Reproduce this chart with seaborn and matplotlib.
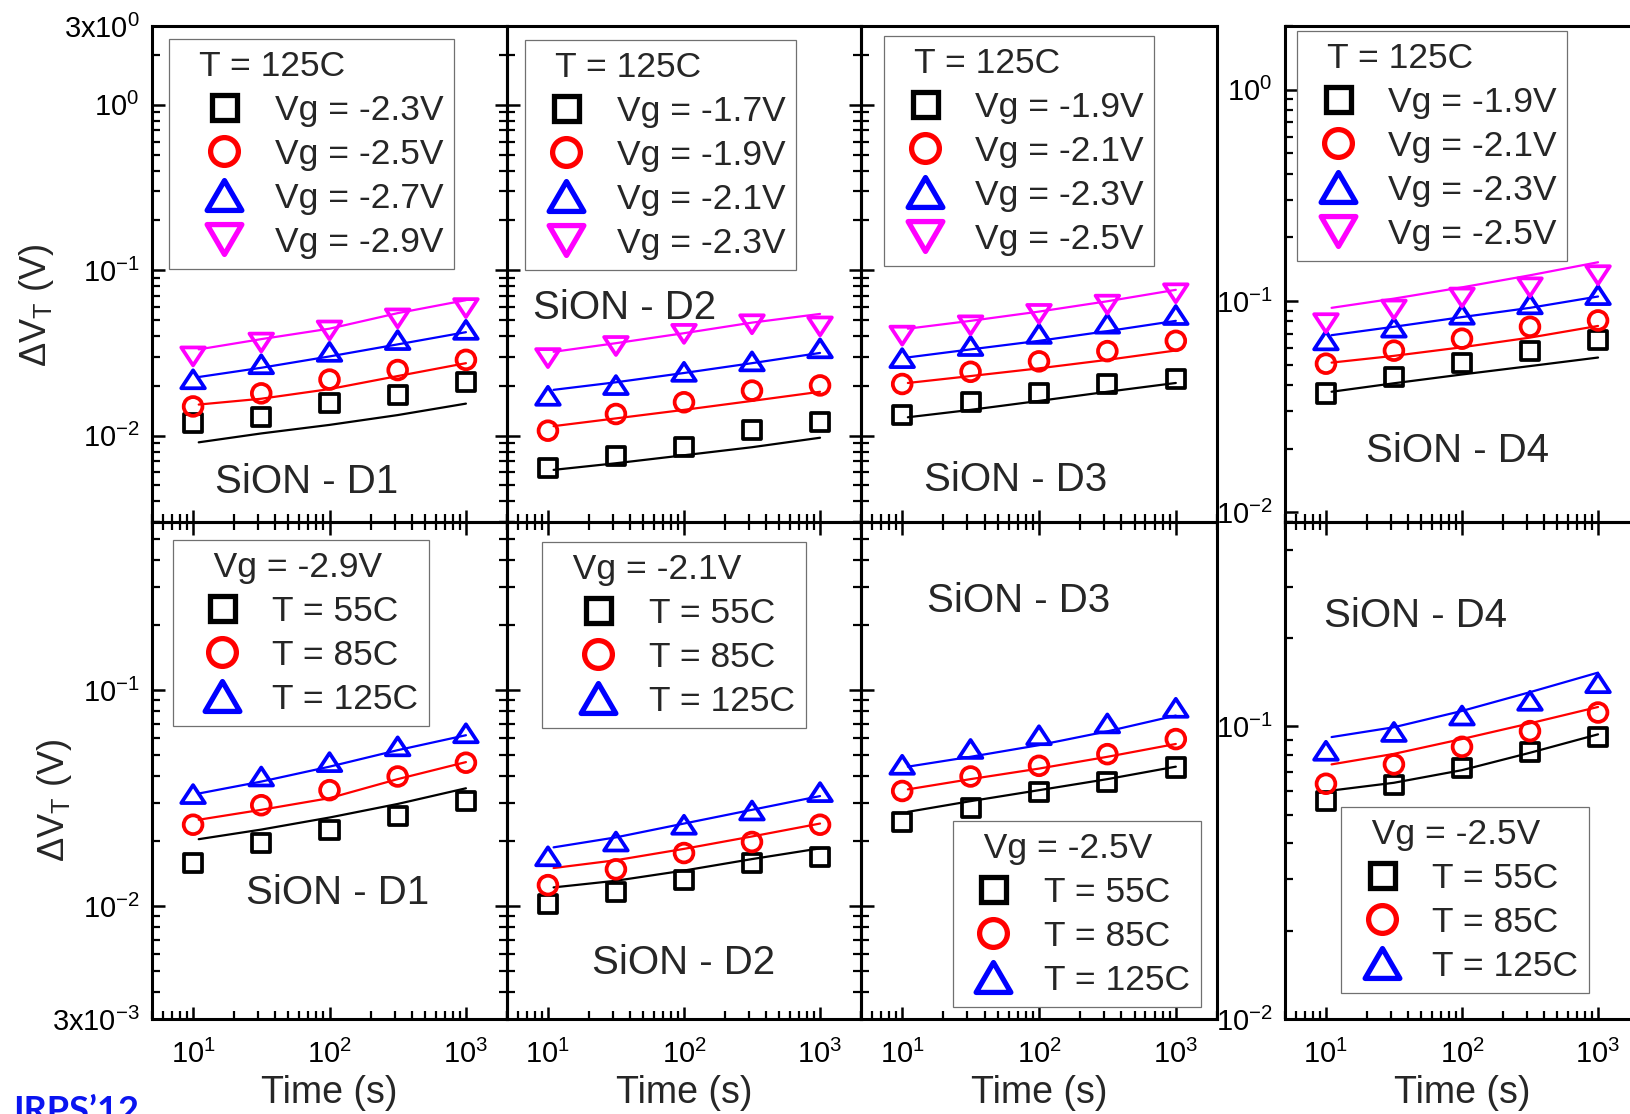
import numpy as np
import matplotlib
matplotlib.use("Agg")
import matplotlib.pyplot as plt
import seaborn as sns
from matplotlib.lines import Line2D
from matplotlib.path import Path
from matplotlib.ticker import FixedLocator, FixedFormatter, LogLocator, NullFormatter

# ---------------------------------------------------------------- data
stress_time = [10, 31.6, 100, 316, 1000]
fit_time = [11, 31.6, 100, 316, 1000]

# top row: T = 125C, gate-voltage series per device (square, circle, up, down)
d1_vg_labels = ["Vg = -2.3V", "Vg = -2.5V", "Vg = -2.7V", "Vg = -2.9V"]
d1_vg_meas = [[0.0119, 0.0130, 0.0158, 0.0175, 0.0212],
              [0.0150, 0.0180, 0.0218, 0.0249, 0.0287],
              [0.0219, 0.0270, 0.0321, 0.0378, 0.0436],
              [0.0301, 0.0365, 0.0432, 0.0511, 0.0590]]
d1_vg_fit = [[0.0091, 0.0103, 0.0116, 0.0133, 0.0156],
             [0.0154, 0.0167, 0.0191, 0.0229, 0.0274],
             [0.0226, 0.0257, 0.0301, 0.0356, 0.0422],
             [0.0332, 0.0383, 0.0443, 0.0550, 0.0659]]

d2_vg_labels = ["Vg = -1.7V", "Vg = -1.9V", "Vg = -2.1V", "Vg = -2.3V"]
d2_vg_meas = [[0.0064, 0.0075, 0.0085, 0.0108, 0.0121],
              [0.0107, 0.0135, 0.0159, 0.0187, 0.0201],
              [0.0174, 0.0202, 0.0243, 0.0281, 0.0337],
              [0.0294, 0.0348, 0.0412, 0.0471, 0.0457]]
d2_vg_fit = [[0.0062, 0.0068, 0.0076, 0.0085, 0.0097],
             [0.0114, 0.0127, 0.0143, 0.0162, 0.0184],
             [0.0189, 0.0210, 0.0239, 0.0274, 0.0316],
             [0.0321, 0.0362, 0.0416, 0.0482, 0.0544]]

d3_vg_labels = ["Vg = -1.9V", "Vg = -2.1V", "Vg = -2.3V", "Vg = -2.5V"]
d3_vg_meas = [[0.0133, 0.0159, 0.0182, 0.0205, 0.0221],
              [0.0205, 0.0243, 0.0281, 0.0324, 0.0374],
              [0.0294, 0.0348, 0.0412, 0.0475, 0.0536],
              [0.0402, 0.0464, 0.0544, 0.0619, 0.0725]]
d3_vg_fit = [[0.0129, 0.0143, 0.0162, 0.0184, 0.0208],
             [0.0208, 0.0229, 0.0255, 0.0287, 0.0327],
             [0.0297, 0.0332, 0.0374, 0.0428, 0.0494],
             [0.0443, 0.0494, 0.0562, 0.0649, 0.0761]]

d4_vg_labels = ["Vg = -1.9V", "Vg = -2.1V", "Vg = -2.3V", "Vg = -2.5V"]
d4_vg_meas = [[0.0365, 0.0435, 0.0511, 0.0578, 0.0651],
              [0.0505, 0.0582, 0.0663, 0.0755, 0.0809],
              [0.0651, 0.0748, 0.0861, 0.0964, 0.1066],
              [0.0785, 0.0911, 0.1038, 0.1160, 0.1324]]
d4_vg_fit = [[0.0372, 0.0408, 0.0449, 0.0492, 0.0540],
             [0.0511, 0.0550, 0.0604, 0.0671, 0.0762],
             [0.0689, 0.0755, 0.0839, 0.0928, 0.1050],
             [0.0928, 0.1026, 0.1160, 0.1323, 0.1525]]

# bottom row: fixed gate voltage, temperature series per device
temp_labels = ["T = 55C", "T = 85C", "T = 125C"]
vg_titles = ["Vg = -2.9V", "Vg = -2.1V", "Vg = -2.5V", "Vg = -2.5V"]

d1_t_meas = [[0.0158, 0.0195, 0.0224, 0.0262, 0.0306],
             [0.0238, 0.0293, 0.0344, 0.0398, 0.0461],
             [0.0330, 0.0398, 0.0464, 0.0549, 0.0631]]
d1_t_fit = [[0.0204, 0.0226, 0.0257, 0.0297, 0.0351],
            [0.0251, 0.0279, 0.0316, 0.0387, 0.0464],
            [0.0332, 0.0377, 0.0442, 0.0527, 0.0618]]

d2_t_meas = [[0.0102, 0.0116, 0.0132, 0.0158, 0.0169],
             [0.0125, 0.0148, 0.0176, 0.0198, 0.0238],
             [0.0170, 0.0199, 0.0238, 0.0277, 0.0337]]
d2_t_fit = [[0.0122, 0.0131, 0.0146, 0.0165, 0.0185],
            [0.0150, 0.0163, 0.0184, 0.0210, 0.0241],
            [0.0187, 0.0208, 0.0241, 0.0279, 0.0323]]

d3_t_meas = [[0.0244, 0.0285, 0.0337, 0.0377, 0.0438],
             [0.0341, 0.0398, 0.0446, 0.0505, 0.0593],
             [0.0451, 0.0534, 0.0618, 0.0701, 0.0828]]
d3_t_fit = [[0.0273, 0.0306, 0.0344, 0.0387, 0.0442],
            [0.0347, 0.0387, 0.0433, 0.0491, 0.0563],
            [0.0442, 0.0491, 0.0556, 0.0644, 0.0762]]

d4_t_meas = [[0.0558, 0.0630, 0.0719, 0.0819, 0.0920],
             [0.0637, 0.0742, 0.0852, 0.0964, 0.1116],
             [0.0826, 0.0958, 0.1090, 0.1224, 0.1406]]
d4_t_fit = [[0.0604, 0.0642, 0.0709, 0.0813, 0.0940],
            [0.0742, 0.0806, 0.0906, 0.1025, 0.1166],
            [0.0920, 0.0994, 0.1130, 0.1310, 0.1528]]

device_names = ["SiON - D1", "SiON - D2", "SiON - D3", "SiON - D4"]

x_ticks = [10, 100, 1000]
x_ticklabels = [r"$\mathregular{10^{1}}$", r"$\mathregular{10^{2}}$", r"$\mathregular{10^{3}}$"]
y_ticks_top = [3, 1, 0.1, 0.01]
y_ticklabels_top = [r"$\mathregular{3x10^{0}}$", r"$\mathregular{10^{0}}$",
                    r"$\mathregular{10^{-1}}$", r"$\mathregular{10^{-2}}$"]
y_ticks_bot = [0.1, 0.01, 0.003]
y_ticklabels_bot = [r"$\mathregular{10^{-1}}$", r"$\mathregular{10^{-2}}$",
                    r"$\mathregular{3x10^{-3}}$"]
y_ticks_d4_top = [1, 0.1, 0.01]
y_ticklabels_d4_top = [r"$\mathregular{10^{0}}$", r"$\mathregular{10^{-1}}$",
                       r"$\mathregular{10^{-2}}$"]
y_ticks_d4_bot = [0.1, 0.01]
y_ticklabels_d4_bot = [r"$\mathregular{10^{-1}}$", r"$\mathregular{10^{-2}}$"]

# ---------------------------------------------------------------- style
sns.set_style("ticks")
plt.rcParams["font.family"] = ["Liberation Sans", "DejaVu Sans"]
plt.rcParams["mathtext.fontset"] = "custom"
plt.rcParams["mathtext.rm"] = "Liberation Sans"
plt.rcParams["mathtext.it"] = "Liberation Sans:italic"
plt.rcParams["mathtext.bf"] = "Liberation Sans:bold"
plt.rcParams["axes.edgecolor"] = "black"
plt.rcParams["axes.linewidth"] = 2.2

COLORS = ["#000000", "#ff0000", "#0000ff", "#ff00ff"]
TRI_UP = Path([(0, 0.76), (-1, -0.76), (1, -0.76), (0, 0.76)], closed=True)
TRI_DN = Path([(0, -0.76), (-1, 0.76), (1, 0.76), (0, -0.76)], closed=True)
LEG_UP = Path([(0, 0.86), (-1, -0.86), (1, -0.86), (0, 0.86)], closed=True)
LEG_DN = Path([(0, -0.86), (-1, 0.86), (1, 0.86), (0, -0.86)], closed=True)
SHAPES = ["s", "o", TRI_UP, TRI_DN]
LEG_SHAPES = ["s", "o", LEG_UP, LEG_DN]
SIZES = [13, 13.5, 17, 17]
LEG_SIZES = [18, 20, 25, 25]

W, H, DPI = 1630, 1114, 100
fig = plt.figure(figsize=(W / DPI, H / DPI), dpi=DPI)


def fx(x):
    return x / W


def fy(y):
    return 1 - y / H


col_x = [(152, 507), (507, 861), (861, 1217), (1285, 1639)]
row_y = [(26, 522), (522, 1019)]

LEG_FS = 25.5
LEG_PAD = 0.3


def add_legend(ax, title, labels, n, left, top, mark_off, text_off, title_off):
    fs_px = LEG_FS * DPI / 72
    pad_px = LEG_PAD * fs_px
    hl = 2 * (mark_off - pad_px) / fs_px
    htp = (text_off - pad_px) / fs_px - hl
    nsp = max(0, int(round((title_off - pad_px) / (0.278 * fs_px))))
    handles = [Line2D([], [], ls="none", marker=LEG_SHAPES[i], ms=LEG_SIZES[i],
                      mfc="none", mec=COLORS[i], mew=3.8) for i in range(n)]
    leg = ax.legend(handles, labels, title=" " * nsp + title, loc="upper left",
                    bbox_to_anchor=(fx(left), fy(top)), bbox_transform=fig.transFigure,
                    borderaxespad=0, borderpad=LEG_PAD, handlelength=hl,
                    handletextpad=htp, labelspacing=0.31, numpoints=1,
                    fontsize=LEG_FS, title_fontsize=LEG_FS, alignment="left",
                    frameon=True, fancybox=False, edgecolor="#707070", framealpha=1)
    leg.get_frame().set_linewidth(0.9)
    return leg


def draw_panel(ax, meas, fits):
    for i, (m, f) in enumerate(zip(meas, fits)):
        sns.lineplot(x=fit_time, y=f, ax=ax, color=COLORS[i], linewidth=1.6,
                     estimator=None, sort=False, legend=False, zorder=2)
        sns.scatterplot(x=stress_time, y=m, ax=ax, marker=SHAPES[i], s=SIZES[i] ** 2,
                        color=COLORS[i], facecolor="none", edgecolor=COLORS[i],
                        linewidth=2.7, legend=False, zorder=3)


top_meas = [d1_vg_meas, d2_vg_meas, d3_vg_meas, d4_vg_meas]
top_fit = [d1_vg_fit, d2_vg_fit, d3_vg_fit, d4_vg_fit]
top_labels = [d1_vg_labels, d2_vg_labels, d3_vg_labels, d4_vg_labels]
bot_meas = [d1_t_meas, d2_t_meas, d3_t_meas, d4_t_meas]
bot_fit = [d1_t_fit, d2_t_fit, d3_t_fit, d4_t_fit]

top_leg_geom = [(169, 39, 55, 106, 35), (525, 40, 41, 92, 30),
                (884, 36, 41, 91, 31), (1297, 31, 41, 91, 31)]
bot_leg_geom = [(173, 540, 49, 99, 37), (542, 542, 56, 107, 35),
                (953, 821, 40, 91, 30), (1341, 807, 41, 91, 29)]
top_name_pos = [(307, 479), (625, 305), (1016, 477), (1458, 448)]
bot_name_pos = [(338, 890), (684, 960), (1019, 598), (1415, 613)]

for row in range(2):
    for col in range(4):
        x0, x1 = col_x[col]
        y0, y1 = row_y[row]
        ax = fig.add_axes([fx(x0), fy(y1), (x1 - x0) / W, (y1 - y0) / H])
        ax.set_xscale("log")
        ax.set_yscale("log")
        ax.set_facecolor("none")
        if row == 0:
            draw_panel(ax, top_meas[col], top_fit[col])
        else:
            draw_panel(ax, bot_meas[col], bot_fit[col])

        ax.set_xlim(5, 2000)
        if row == 0:
            if col < 3:
                ax.set_ylim(3e-3, 3)
                yt, yl = y_ticks_top, y_ticklabels_top
            else:
                ax.set_ylim(0.009, 2)
                yt, yl = y_ticks_d4_top, y_ticklabels_d4_top
        else:
            if col < 3:
                ax.set_ylim(3e-3, 0.6)
                yt, yl = y_ticks_bot, y_ticklabels_bot
            else:
                ax.set_ylim(0.01, 0.5)
                yt, yl = y_ticks_d4_bot, y_ticklabels_d4_bot

        ax.xaxis.set_major_locator(FixedLocator(x_ticks))
        ax.xaxis.set_major_formatter(FixedFormatter(x_ticklabels))
        ax.xaxis.set_minor_locator(LogLocator(base=10, subs=np.arange(2, 10), numticks=50))
        ax.xaxis.set_minor_formatter(NullFormatter())
        ax.yaxis.set_major_locator(FixedLocator(yt))
        ax.yaxis.set_major_formatter(FixedFormatter(yl))
        ax.yaxis.set_minor_locator(LogLocator(base=10, subs=np.arange(2, 10), numticks=50))
        ax.yaxis.set_minor_formatter(NullFormatter())

        ax.tick_params(which="both", direction="in", left=True, right=(col < 2),
                       top=(row == 1), bottom=True, labelleft=(col in (0, 3)),
                       labelbottom=(row == 1), labelright=False, labeltop=False,
                       labelsize=21, colors="black")
        ax.tick_params(which="major", length=9, width=1.8)
        ax.tick_params(which="minor", length=5.5, width=1.6)
        ax.tick_params(axis="y", which="both", pad=9)
        ax.tick_params(axis="x", which="both", pad=15)
        for sp in ax.spines.values():
            sp.set_linewidth(2.2)
            sp.set_visible(True)
        ax.grid(False)

        if row == 0:
            lx, ly, mo, to, tt = top_leg_geom[col]
            add_legend(ax, "T = 125C", top_labels[col], 4, lx, ly, mo, to, tt)
            nx, ny = top_name_pos[col]
        else:
            lx, ly, mo, to, tt = bot_leg_geom[col]
            add_legend(ax, vg_titles[col], temp_labels, 3, lx, ly, mo, to, tt)
            nx, ny = bot_name_pos[col]
            fig.text(fx((x0 + x1) / 2), fy(1093), "Time (s)", ha="center", va="center",
                     fontsize=27)
        fig.text(fx(nx), fy(ny + 14), device_names[col], ha="center", va="baseline",
                 fontsize=29)

# y-axis titles
fig.text(fx(36), fy(305), r"$\mathregular{\Delta V_T}$ (V)", rotation=90,
         ha="center", va="center", fontsize=26)
fig.text(fx(55), fy(800), r"$\mathregular{\Delta V_T}$ (V)", rotation=90,
         ha="center", va="center", fontsize=26)

# conference tag
fig.text(fx(13), fy(1122), "IRPS\u201912", color="#0a14f0", fontsize=26,
         fontweight="bold", family=["Lato", "DejaVu Sans"], ha="left", va="baseline")

fig.savefig("out.png", dpi=DPI)
